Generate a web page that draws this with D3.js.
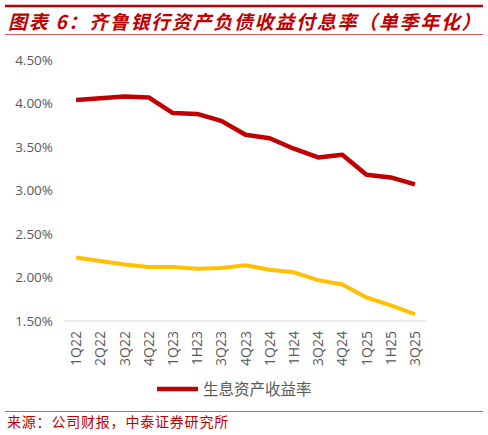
<!DOCTYPE html>
<html>
<head>
<meta charset="utf-8">
<script src="https://cdn.jsdelivr.net/npm/d3@7"></script>
<style>
  body { margin: 0; background: #fff; }
  svg { display: block; }
</style>
</head>
<body>
<script>
const quarters = ['1Q22','2Q22','3Q22','4Q22','1Q23','1H23','3Q23','4Q23','1Q24','1H24','3Q24','4Q24','1Q25','1H25','3Q25'];
// 生息资产收益率
const assetYield = [4.04, 4.06, 4.08, 4.07, 3.89, 3.88, 3.80, 3.64, 3.60, 3.48, 3.38, 3.41, 3.18, 3.15, 3.07];
// 付息负债成本率
const liabilityCost = [2.23, 2.19, 2.15, 2.12, 2.12, 2.10, 2.11, 2.14, 2.09, 2.06, 1.97, 1.92, 1.77, 1.68, 1.58];
const yTicks = [1.5, 2.0, 2.5, 3.0, 3.5, 4.0, 4.5];

const W = 488, H = 435;
const plot = { left: 64, right: 427, top: 60, bottom: 321 };

const svg = d3.select('body').append('svg')
    .attr('width', W)
    .attr('height', H);

// header / footer rules
svg.append('line').attr('x1', 5).attr('x2', 483).attr('y1', 6).attr('y2', 6)
    .attr('stroke', '#c00000').attr('stroke-width', 2.5);
svg.append('line').attr('x1', 5).attr('x2', 483).attr('y1', 34.5).attr('y2', 34.5)
    .attr('stroke', '#d65a5a').attr('stroke-width', 1.2);
svg.append('line').attr('x1', 5).attr('x2', 483).attr('y1', 411.5).attr('y2', 411.5)
    .attr('stroke', '#d65a5a').attr('stroke-width', 1.2);

svg.append('text')
    .attr('x', 8).attr('y', 29)
    .attr('fill', '#c00000')
    .style('font-family', '"Noto Sans CJK SC"')
    .style('font-size', '19px')
    .style('font-weight', 'bold')
    .style('font-style', 'italic')
    .style('letter-spacing', '1.7px')
    .text('图表 6：齐鲁银行资产负债收益付息率（单季年化）');

svg.append('text')
    .attr('x', 7).attr('y', 427)
    .attr('fill', '#c00000')
    .style('font-family', '"Noto Sans CJK SC"')
    .style('font-size', '14px')
    .style('letter-spacing', '0.8px')
    .text('来源：公司财报，中泰证券研究所');

// scales
let x = d3.scaleBand()
    .domain(quarters)
    .range([plot.left, plot.right]);

let y = d3.scaleLinear()
    .domain([1.5, 4.5])
    .range([plot.bottom, plot.top]);

// y axis labels
svg.append('g').selectAll('text')
    .data(yTicks)
    .enter()
    .append('text')
    .attr('x', 53)
    .attr('y', d => y(d))
    .attr('dy', '0.36em')
    .attr('text-anchor', 'end')
    .attr('fill', '#595959')
    .style('font-family', '"Open Sans", Calibri, sans-serif')
    .style('font-size', '13.5px')
    .text(d => d.toFixed(2) + '%');

// baseline
svg.append('line')
    .attr('x1', plot.left).attr('x2', plot.right)
    .attr('y1', y(1.5)).attr('y2', y(1.5))
    .attr('stroke', '#d9d9d9').attr('stroke-width', 1);

// x labels (rotated)
svg.append('g').selectAll('text')
    .data(quarters)
    .enter()
    .append('text')
    .attr('transform', d => 'translate(' + (x(d) + x.bandwidth() / 2) + ',' + 331 + ') rotate(-90)')
    .attr('dy', '0.36em')
    .attr('text-anchor', 'end')
    .attr('fill', '#595959')
    .style('font-family', '"Open Sans", Calibri, sans-serif')
    .style('font-size', '14px')
    .text(d => d);

let line = d3.line()
    .x((d, i) => x(quarters[i]) + x.bandwidth() / 2)
    .y(d => y(d));

svg.append('path')
    .attr('d', line(liabilityCost))
    .attr('fill', 'none')
    .attr('stroke', '#ffc000')
    .attr('stroke-width', 4)
    .attr('stroke-linejoin', 'round');

svg.append('path')
    .attr('d', line(assetYield))
    .attr('fill', 'none')
    .attr('stroke', '#c00000')
    .attr('stroke-width', 4.5)
    .attr('stroke-linejoin', 'round');

// legend
svg.append('line')
    .attr('x1', 157).attr('x2', 198).attr('y1', 389).attr('y2', 389)
    .attr('stroke', '#c00000').attr('stroke-width', 4.5);
svg.append('text')
    .attr('x', 203).attr('y', 389)
    .attr('dy', '0.36em')
    .attr('fill', '#595959')
    .style('font-family', '"Noto Sans CJK SC"')
    .style('font-size', '15.5px')
    .text('生息资产收益率');
</script>
</body>
</html>
